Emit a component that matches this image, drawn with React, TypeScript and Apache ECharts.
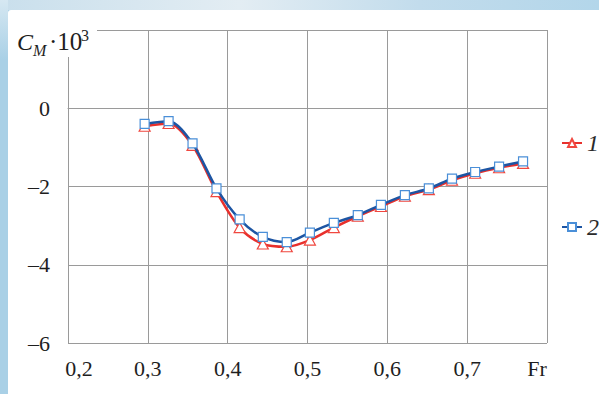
import React, { useEffect, useRef } from "react";
import * as echarts from "echarts";

// Froude numbers of the measured points
const frValues = [0.296, 0.326, 0.356, 0.386, 0.415, 0.444, 0.474, 0.503, 0.533, 0.563, 0.592, 0.622, 0.652, 0.681, 0.71, 0.74, 0.77];
// Series 1 (red triangles), C_M·10^3
const cm1 = [-0.46, -0.39, -0.95, -2.13, -3.05, -3.47, -3.54, -3.37, -3.05, -2.76, -2.51, -2.25, -2.08, -1.84, -1.66, -1.52, -1.41];
// Series 2 (blue squares), C_M·10^3
const cm2 = [-0.4, -0.33, -0.9, -2.05, -2.84, -3.29, -3.42, -3.18, -2.93, -2.73, -2.47, -2.22, -2.05, -1.8, -1.63, -1.49, -1.36];
const seriesNames = ["1", "2"];
// x tick labels at 0.2 .. 0.8
const xTickValues = [0.2, 0.3, 0.4, 0.5, 0.6, 0.7, 0.8];
const xTickLabels = ["0,2", "0,3", "0,4", "0,5", "0,6", "0,7", "Fr"];
// y tick labels at -6 .. 2
const yTickValues = [-6, -4, -2, 0, 2];
const yTickLabels = ["\u20136", "\u20134", "\u20132", "0", ""];

const SERIF = "'Liberation Serif', 'Times New Roman', serif";
const GRID = "#9a9a9a";
const TXT = "#1e1e1e";

export default function App() {
  const ref = useRef<HTMLDivElement>(null);
  useEffect(() => {
    if (!ref.current) return;
    const chart = echarts.init(ref.current, null, { renderer: "svg" });
    const pairs = (ys: number[]) => frValues.map((x, i) => [x, ys[i]]);
    chart.setOption({
      animation: false,
      textStyle: { fontFamily: SERIF },
      grid: { left: 68, right: 52, top: 30, bottom: 51, containLabel: false },
      legend: {
        orient: "vertical",
        left: 556,
        top: 126,
        itemWidth: 20,
        itemHeight: 10,
        itemGap: 60,
        data: seriesNames,
        textStyle: { fontFamily: SERIF, fontStyle: "italic", fontSize: 24, color: "#2a2a2a" },
      },
      xAxis: {
        type: "value",
        min: 0.2,
        max: 0.8,
        interval: 0.1,
        axisLine: { show: true, lineStyle: { color: GRID, width: 1 } },
        axisTick: { show: false },
        splitLine: { show: true, lineStyle: { color: GRID, width: 1 } },
        axisLabel: {
          margin: 14,
          fontFamily: SERIF,
          fontSize: 22,
          color: TXT,
          formatter: (v: number) => {
            const i = xTickValues.findIndex((t) => Math.abs(t - v) < 1e-6);
            const s = i >= 0 ? xTickLabels[i] : "";
            if (i === 0) return "{first|" + s + "}";
            if (i === xTickValues.length - 1) return "{last|" + s + "}";
            return s;
          },
          rich: {
            first: { fontFamily: SERIF, fontSize: 22, color: TXT, padding: [0, 0, 0, 22] },
            last: { fontFamily: SERIF, fontSize: 22, color: TXT, padding: [0, 20, 0, 0] },
          },
        },
      },
      yAxis: {
        type: "value",
        min: -6,
        max: 2,
        interval: 2,
        axisLine: { show: true, lineStyle: { color: GRID, width: 1 } },
        axisTick: { show: false },
        splitLine: { show: true, lineStyle: { color: GRID, width: 1 } },
        axisLabel: {
          margin: 18,
          fontFamily: SERIF,
          fontSize: 22,
          color: TXT,
          formatter: (v: number) => {
            const i = yTickValues.findIndex((t) => Math.abs(t - v) < 1e-6);
            return i >= 0 ? yTickLabels[i] : "";
          },
        },
      },
      graphic: [
        { type: "rect", z: 100, shape: { x: 58, y: 22, width: 39, height: 35 }, style: { fill: "#fff" } },
        { type: "text", z: 101, x: 17, y: 54, style: { text: "C", fontFamily: SERIF, fontStyle: "italic", fontSize: 24, fill: TXT, verticalAlign: "bottom" } },
        { type: "text", z: 101, x: 33, y: 58, style: { text: "M", fontFamily: SERIF, fontStyle: "italic", fontSize: 16, fill: TXT, verticalAlign: "bottom" } },
        { type: "text", z: 101, x: 49, y: 54, style: { text: "\u00b710", fontFamily: SERIF, fontSize: 25, fill: TXT, verticalAlign: "bottom" } },
        { type: "text", z: 101, x: 81, y: 43, style: { text: "3", fontFamily: SERIF, fontSize: 16, fill: TXT, verticalAlign: "bottom" } },
      ],
      series: [
        {
          name: seriesNames[0],
          type: "line",
          smooth: 0.3,
          data: pairs(cm1),
          symbol: "triangle",
          symbolSize: [11, 10],
          lineStyle: { color: "#e8302c", width: 2.5 },
          itemStyle: { color: "#fff", borderColor: "#f0473f", borderWidth: 1.2 },
          z: 2,
        },
        {
          name: seriesNames[1],
          type: "line",
          smooth: 0.3,
          data: pairs(cm2),
          symbol: "rect",
          symbolSize: 9,
          lineStyle: { color: "#1d55a3", width: 2.5 },
          itemStyle: { color: "#fff", borderColor: "#4a8fd8", borderWidth: 1.2 },
          z: 3,
        },
      ],
    });
    return () => chart.dispose();
  }, []);

  return (
    <div style={{ position: "absolute", left: 0, top: 0, width: 599, height: 394, background: "#a9d0e6", overflow: "hidden" }}>
      <div style={{ position: "absolute", left: 0, top: 0, width: 599, height: 10, background: "linear-gradient(90deg, #c9dfec 0%, #e3edf3 40%, #c2dcec 70%, #b3d6ea 100%)" }} />
      <div style={{ position: "absolute", left: 0, top: 0, width: 8, height: 394, background: "linear-gradient(180deg, #d6e8f2 0%, #a9d0e6 15%, #a9d0e6 100%)" }} />
      <div style={{ position: "absolute", left: 8, top: 10, width: 591, height: 384, background: "#fff", borderTopLeftRadius: 3 }} />
      <div ref={ref} style={{ position: "absolute", left: 0, top: 0, width: 599, height: 394 }} />
    </div>
  );
}
